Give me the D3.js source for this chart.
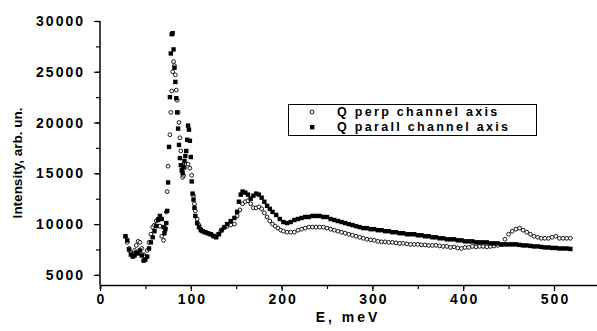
<!DOCTYPE html>
<html><head><meta charset="utf-8">
<script src="https://cdn.jsdelivr.net/npm/d3@7/dist/d3.min.js"></script>
<style>
html,body{margin:0;padding:0;background:#fff;}
svg{display:block;font-family:"Liberation Sans",Arial,sans-serif;}
</style></head><body>
<svg id="c" width="597" height="331"></svg>
<script>
// ---- data ----
const energyPerp = [28,30,32,34,36,38,40,42,44,46,48,50,52,54,56,58,60,62,64,66,68,70,72,73,74,75,77,78,79,80,81,82,83,84,85,86,87,88,89,90,91,92,93,95,97,99,101,103,104,105,107,109,111,113,115,118,121,124,127,130,133,136,140,144,148,151,154,157,160,163,166,169,172,175,178,181,184,187,190,193,196,199,202,206,210,214,218,222,226,230,234,238,242,246,250,254,258,262,266,270,274,278,282,286,290,294,298,302,306,310,314,318,322,326,330,334,338,342,346,350,354,358,362,366,370,374,378,382,386,390,394,398,402,406,410,414,418,422,426,430,434,438,442,446,450,454,458,462,466,470,474,478,482,486,490,494,498,502,506,510,514,518];
const intensityPerp = [8800,8200,7600,7200,7000,7400,7900,8300,8200,7600,7000,6800,7400,8200,9000,9700,9900,10300,10500,9800,8800,8400,9600,11200,13200,15700,18800,21000,23100,25000,26000,25600,24700,23200,22200,21000,20000,18500,17200,15800,14600,14800,15500,15900,15900,15500,14800,12800,12000,11300,10500,9900,9500,9300,9200,9100,9000,8900,8800,9000,9300,9600,9800,9900,10000,10800,11400,12000,12200,12300,12000,11600,11600,11700,11500,11100,10700,10300,10000,9800,9600,9400,9300,9200,9200,9200,9400,9500,9600,9700,9700,9700,9700,9700,9600,9500,9400,9300,9200,9100,9000,8900,8800,8700,8600,8500,8450,8400,8300,8250,8250,8200,8200,8150,8100,8100,8050,8000,8000,8000,7950,7950,7900,7900,7900,7850,7800,7800,7700,7750,7650,7600,7700,7700,7800,7750,7800,7800,7750,7800,7850,7900,8000,8500,9000,9300,9500,9600,9400,9200,9000,8800,8700,8600,8600,8600,8700,8800,8600,8600,8600,8600];
const energyParall = [28,30,32,34,36,38,40,42,44,46,48,50,52,54,56,58,60,62,64,66,68,70,71,72,73,74,75,76,77,78,79,80,81,82,83,84,85,86,87,88,89,90,91,92,93,94,95,96,97,98,99,100,101,102,103,104,105,107,109,111,113,116,119,122,125,128,131,134,137,140,144,148,151,153,155,157,160,163,166,169,172,175,178,181,184,187,190,194,198,202,206,210,214,218,222,226,230,234,238,242,246,250,254,258,262,266,270,274,278,282,286,290,294,298,302,306,310,314,318,322,326,330,334,338,342,346,350,354,358,362,366,370,374,378,382,386,390,394,398,402,406,410,414,418,422,426,430,434,438,442,446,450,454,458,462,466,470,474,478,482,486,490,494,498,502,506,510,514,518];
const intensityParall = [8800,8400,7500,7000,6800,6900,7200,7100,7400,6900,6400,6500,6800,7600,8200,8700,9300,9800,10400,10800,10500,9700,9100,9500,10100,11300,14100,17600,22500,26800,28700,28800,27200,25400,24000,22400,21000,19400,17800,16500,15800,15300,15000,15600,16200,16700,17200,18300,19700,19300,18200,16600,14200,13000,12400,11600,10800,10100,9700,9400,9300,9200,9100,9000,8800,8700,9000,9400,9700,10000,10300,10600,11200,12200,12900,13200,13100,12900,12500,12800,13000,12900,12600,12200,11800,11500,11200,10900,10500,10200,10100,10200,10400,10500,10600,10700,10700,10800,10800,10800,10700,10700,10500,10400,10300,10200,10100,10000,9900,9800,9700,9600,9600,9500,9500,9400,9400,9300,9300,9200,9200,9100,9100,9000,9000,9000,8900,8900,8800,8800,8700,8700,8600,8600,8500,8500,8500,8400,8400,8300,8300,8300,8200,8200,8200,8200,8100,8100,8100,8000,8000,8000,8000,8000,7950,7900,7900,7850,7800,7800,7750,7700,7700,7650,7650,7600,7600,7600,7550,7550,7500];
const xTicks = [0,100,200,300,400,500];
const yTicks = [5000,10000,15000,20000,25000,30000];
const legendLabels = ["Q perp channel axis","Q parall channel axis"];

// ---- chart ----
const svg = d3.select("#c");
const x = d3.scaleLinear().domain([0,550]).range([100,599.4]);
const y = d3.scaleLinear().domain([4000,30000]).range([285,21]);

const tickFont = g => g.selectAll("text")
  .attr("font-size","14px").attr("font-weight","bold")
  .attr("letter-spacing","2px").attr("fill","#000");

// x axis
const xAxis = svg.append("g").attr("transform","translate(0,285)");
xAxis.call(d3.axisBottom(x).tickValues(d3.range(0,551,50)).tickSize(4).tickFormat(""));
xAxis.call(g=>g.select(".domain").attr("stroke-width",1.5));
xAxis.selectAll(".tick line").attr("stroke-width",1.2);
const xLab = svg.append("g").attr("transform","translate(0,285)")
  .call(d3.axisBottom(x).tickValues(xTicks).tickSize(6).tickPadding(3).tickFormat(d3.format("d")));
xLab.select(".domain").remove();
xLab.selectAll(".tick line").attr("stroke-width",1.2);
tickFont(xLab);
xLab.selectAll("text").attr("dx","1px");

// y axis
const yAxis = svg.append("g").attr("transform","translate(100,0)");
yAxis.call(d3.axisLeft(y).tickValues(d3.range(5000,30001,2500)).tickSize(4).tickFormat(""));
yAxis.call(g=>g.select(".domain").attr("stroke-width",1.5).attr("d","M-0,285V21"));
yAxis.selectAll(".tick line").attr("stroke-width",1.2);
const yLab = svg.append("g").attr("transform","translate(100,0)")
  .call(d3.axisLeft(y).tickValues(yTicks).tickSize(6).tickPadding(9).tickFormat(d3.format("d")));
yLab.select(".domain").remove();
yLab.selectAll(".tick line").attr("stroke-width",1.2);
tickFont(yLab);

// axis titles
svg.append("text").attr("x",348).attr("y",322).attr("text-anchor","middle")
  .attr("font-size","14px").attr("font-weight","bold").attr("letter-spacing","3px")
  .text("E, meV");
svg.append("text").attr("transform","translate(22,163) rotate(-90)").attr("text-anchor","middle")
  .attr("font-size","13.5px").attr("font-weight","bold")
  .text("Intensity, arb. un.");

// data
const perp = energyPerp.map((e,i)=>[e,intensityPerp[i]]);
const par = energyParall.map((e,i)=>[e,intensityParall[i]]);
svg.append("g").selectAll("circle").data(perp).join("circle")
  .attr("cx",d=>x(d[0])).attr("cy",d=>y(d[1])).attr("r",1.9)
  .attr("fill","#fff").attr("stroke","#000").attr("stroke-width",0.9);
svg.append("g").selectAll("rect").data(par).join("rect")
  .attr("x",d=>x(d[0])-2.2).attr("y",d=>y(d[1])-2.2).attr("width",4.4).attr("height",4.4)
  .attr("fill","#000");

// legend
const lg = svg.append("g");
lg.append("rect").attr("x",288.5).attr("y",104.5).attr("width",248).attr("height",31)
  .attr("fill","#fff").attr("stroke","#000").attr("stroke-width",1);
lg.append("circle").attr("cx",312).attr("cy",112).attr("r",1.9)
  .attr("fill","#fff").attr("stroke","#000").attr("stroke-width",0.9);
lg.append("rect").attr("x",310).attr("y",125).attr("width",4.4).attr("height",4.4).attr("fill","#000");
legendLabels.forEach((t,i)=>{
  lg.append("text").attr("x",337).attr("y",116+i*15)
    .attr("font-size","12.5px").attr("font-weight","bold").attr("letter-spacing","2.3px")
    .text(t);
});
</script>
</body></html>
